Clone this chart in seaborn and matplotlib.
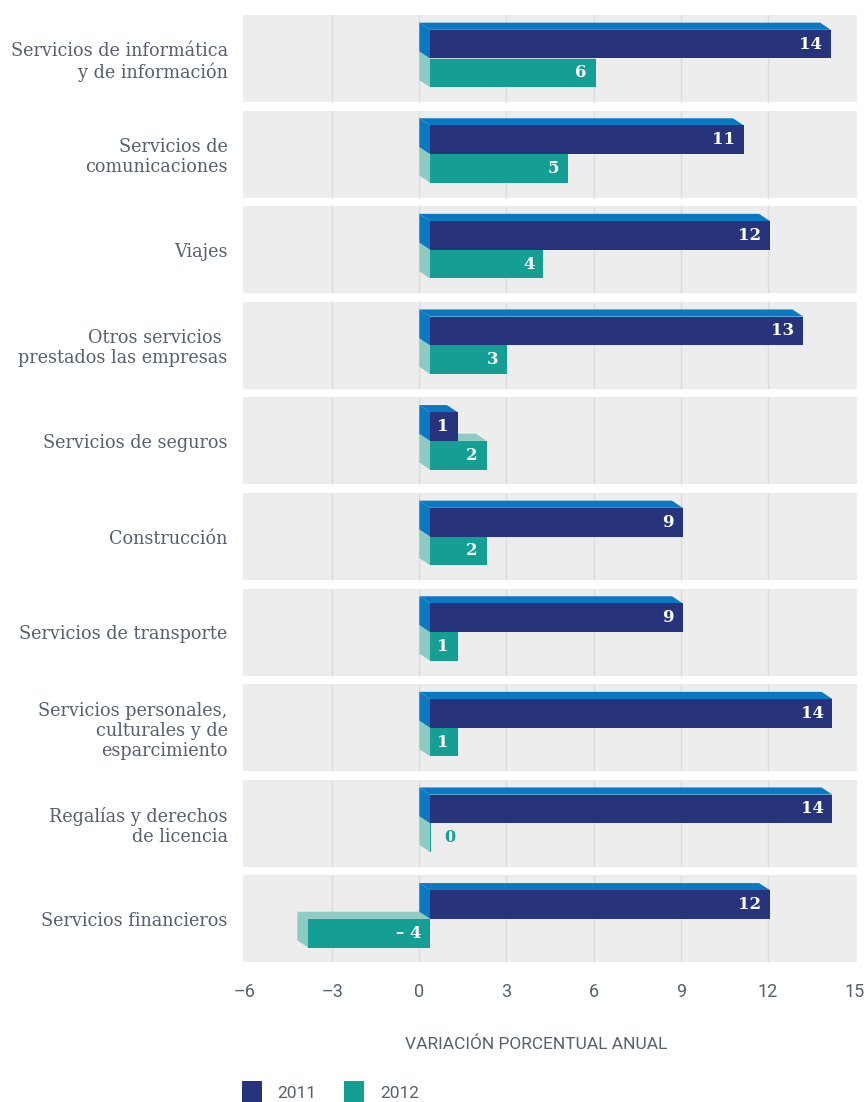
import numpy as np
import pandas as pd
import matplotlib
matplotlib.use("Agg")
import matplotlib.pyplot as plt
from matplotlib.patches import Polygon
import seaborn as sns

categories = [
    "Servicios de informática\ny de información",
    "Servicios de\ncomunicaciones",
    "Viajes",
    "Otros servicios \nprestados las empresas",
    "Servicios de seguros",
    "Construcción",
    "Servicios de transporte",
    "Servicios personales,\nculturales y de\nesparcimiento",
    "Regalías y derechos\nde licencia",
    "Servicios financieros",
]
years = ["2011", "2012"]
values_2011 = [13.8, 10.8, 11.7, 12.85, 0.95, 8.7, 8.7, 13.85, 13.85, 11.7]
values_2012 = [5.7, 4.75, 3.9, 2.65, 1.95, 1.95, 0.95, 0.95, 0.05, -4.2]
x_ticks = [-6, -3, 0, 3, 6, 9, 12, 15]
x_label = "VARIACIÓN PORCENTUAL ANUAL"

NAVY = "#27337a"
NAVY_SIDE = "#0b79c1"
TEAL = "#149e94"
TEAL_SIDE = "#8ecbc3"
BAND = "#ededed"
GRID = "#dcdcdc"
TXT = "#566070"

df = pd.DataFrame({
    "category": categories * 2,
    "year": [years[0]] * len(categories) + [years[1]] * len(categories),
    "value": values_2011 + values_2012,
})

sns.set_style("white")
plt.rcParams["font.family"] = ["DejaVu Serif"]

W, H = 867, 1102
fig = plt.figure(figsize=(W / 100, H / 100), dpi=100)
ax_left, ax_right = 243 / W, 857 / W
ax_top_px, ax_bot_px = 10.7, 966.7
ax = fig.add_axes([ax_left, 1 - ax_bot_px / H, ax_right - ax_left, (ax_bot_px - ax_top_px) / H])

sns.barplot(data=df, y="category", x="value", hue="year", orient="h",
            width=0.6, palette=[NAVY, TEAL], saturation=1, ax=ax,
            linewidth=0, errorbar=None)

handles, labels = ax.get_legend_handles_labels()
if ax.get_legend() is not None:
    ax.get_legend().remove()

n = len(categories)
xmin, xmax = -6.07, 15.07
ax.set_xlim(xmin, xmax)
ax.set_ylim(n - 0.5, -0.5)

half = 0.455
inner_ticks = [t for t in x_ticks if x_ticks[0] < t < x_ticks[-1]]
for c in range(n):
    ax.add_patch(plt.Rectangle((xmin, c - half), xmax - xmin, 2 * half,
                               facecolor=BAND, edgecolor="none", zorder=0))
    ax.vlines(inner_ticks, c - half, c + half, color=GRID, lw=1.0, zorder=0.5)

dx, dy = 0.37, 0.075
side_cols = [NAVY_SIDE, TEAL_SIDE]
front_cols = [NAVY, TEAL]
z_side = [3, 1.5]
z_front = [4, 2.5]
for k, cont in enumerate(ax.containers):
    for p in cont.patches:
        x = p.get_x(); w = p.get_width()
        x0, x1 = min(x, x + w), max(x, x + w)
        y0 = p.get_y(); y1 = y0 + p.get_height()
        p.set_x(p.get_x() + dx)
        p.set_zorder(z_front[k])
        top = Polygon([(x0 + dx, y0), (x1 + dx, y0), (x1, y0 - dy), (x0, y0 - dy)],
                      closed=True, facecolor=side_cols[k], edgecolor="none", zorder=z_side[k])
        left = Polygon([(x0 + dx, y0), (x0 + dx, y1), (x0, y1 - dy), (x0, y0 - dy)],
                       closed=True, facecolor=side_cols[k], edgecolor="none", zorder=z_side[k])
        ax.add_patch(top); ax.add_patch(left)
        r = int(round(w))
        yc = (y0 + y1) / 2
        if r == 0:
            ax.text(x1 + dx + 0.45, yc, "0", ha="left", va="center", color=front_cols[k],
                    fontsize=11.5, fontweight="bold", zorder=6)
        else:
            txt = str(r) if r > 0 else f"– {abs(r)}"
            ax.text(x1 + dx - 0.3, yc, txt, ha="right", va="center", color="white",
                    fontsize=12, fontweight="bold", zorder=6)

for s in ax.spines.values():
    s.set_visible(False)
ax.grid(False)
ax.set_xticks(x_ticks)
ax.set_xticklabels([("–" + str(abs(t))) if t < 0 else str(t) for t in x_ticks],
                   fontfamily="Roboto", fontsize=13, color=TXT)
ax.tick_params(axis="x", length=0, pad=12)
ax.tick_params(axis="y", length=0, pad=11)
for lab in ax.get_yticklabels():
    lab.set_fontsize(12.7)
    lab.set_color(TXT)
    lab.set_multialignment("right")
    lab.set_linespacing(1.15)
ax.set_ylabel("")
ax.set_xlabel(x_label, fontfamily="Roboto", fontsize=12.5,
              color=TXT, labelpad=25)
ax.xaxis.label.set_x((536 - 243) / 614)

leg = fig.legend(handles, labels, loc="upper left",
                 bbox_to_anchor=(242 / W, 1 - 1081 / H), ncol=2, frameon=False,
                 handlelength=1.15, handleheight=1.6, handletextpad=0.9,
                 columnspacing=1.6, borderaxespad=0, borderpad=0,
                 prop={"family": "Roboto", "size": 12.5})
for t in leg.get_texts():
    t.set_color(TXT)

fig.savefig("out.png", dpi=100)
